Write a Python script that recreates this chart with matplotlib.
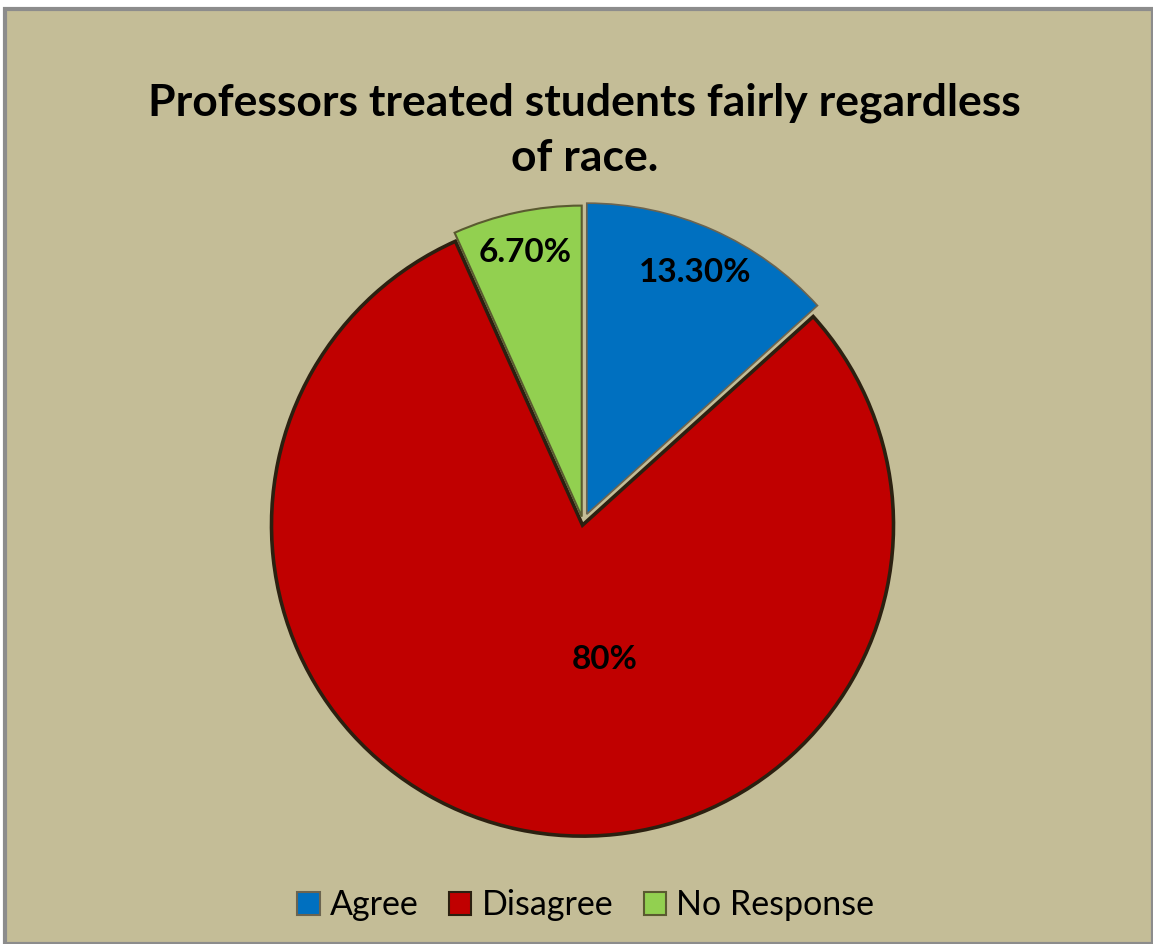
import numpy as np
import matplotlib.pyplot as plt
from matplotlib.patches import Patch, Rectangle

categories = ["Agree", "Disagree", "No Response"]
values = [13.3, 80.0, 6.7]
value_labels = ["13.30%", "80%", "6.70%"]
colors = ["#0070C0", "#C00000", "#92D050"]
edges = ["#6B6450", "#2B2010", "#5A5A30"]

bg = "#C4BD97"

fig = plt.figure(figsize=(11.53, 9.44), dpi=100)
fig.patch.set_facecolor("white")
# chart area with gray frame
fig.patches.append(Rectangle((5 / 1153, 0), 1 - 5 / 1153, 1 - 9 / 944,
                             transform=fig.transFigure, facecolor=bg,
                             edgecolor="#8C8C8C", linewidth=3, zorder=-5))

ax = fig.add_axes([0.155, 0.018, 0.7013, 0.8566])
ax.set_facecolor("none")
ax.set_zorder(2)

wedges, _ = ax.pie(values, colors=colors, startangle=90, counterclock=False,
                   explode=[0.03, 0.008, 0.02],
                   wedgeprops=dict(linewidth=2.6))
for w, ec in zip(wedges, edges):
    w.set_edgecolor(ec)
wedges[0].set_linewidth(1.2)
wedges[2].set_linewidth(1.5)

# label positions (angle in degrees, radius)
label_pos = [(65.9, 0.88), (-80.9, 0.447), (102.0, 0.888)]
for txt, (ang, r) in zip(value_labels, label_pos):
    a = np.deg2rad(ang)
    ax.text(r * np.cos(a), r * np.sin(a), txt, ha="center", va="center",
            fontsize=24, fontfamily="Lato", fontweight="bold", color="black")

ax.set_xlim(-1.3, 1.3)
ax.set_ylim(-1.3, 1.3)
ax.set_aspect("equal")
ax.axis("off")

fig.text(0.507, 0.862, "Professors treated students fairly regardless\nof race.",
         ha="center", va="center", fontsize=32, fontweight="bold",
         fontfamily="Lato", linespacing=1.45)

handles = [Patch(facecolor=c, edgecolor=e, linewidth=1.5) for c, e in zip(colors, edges)]
fig.legend(handles, categories, loc="center", bbox_to_anchor=(0.508, 0.041),
           ncol=3, frameon=False, prop=dict(family="Lato", size=24.5),
           handlelength=0.65, handleheight=0.65, handletextpad=0.3, columnspacing=0.9)

plt.savefig("out.png", dpi=100, facecolor=fig.get_facecolor())
